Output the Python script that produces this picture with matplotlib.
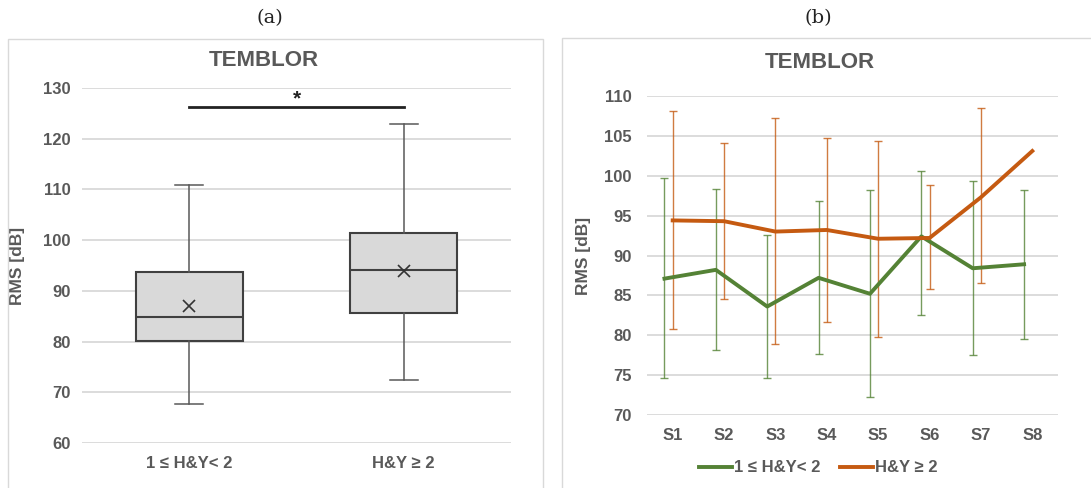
import numpy as np
import matplotlib
matplotlib.use("Agg")
import matplotlib.pyplot as plt
from matplotlib.patches import Rectangle

plt.rcParams['font.family'] = ['Liberation Sans', 'DejaVu Sans']

# ---- panel (a): box plot data ----
groups = ["1 \u2264 H&Y< 2", "H&Y \u2265 2"]
whisker_low = [67.7, 72.5]
q1 = [80.2, 85.6]
median = [84.8, 94.2]
q3 = [93.7, 101.4]
whisker_high = [110.8, 123.0]
mean_vals = [87.1, 94.0]
sig_level = 126.2

# ---- panel (b): per-session means and error bar ends ----
sessions = ["S1", "S2", "S3", "S4", "S5", "S6", "S7", "S8"]
mild_mean = [87.1, 88.2, 83.6, 87.2, 85.2, 92.4, 88.4, 88.9]
mild_top = [99.7, 98.3, 92.6, 96.8, 98.2, 100.6, 99.4, 98.2]
mild_bot = [74.6, 78.1, 74.7, 77.6, 72.2, 82.6, 77.5, 79.5]
sev_mean = [94.4, 94.3, 93.0, 93.2, 92.1, 92.2, 97.3, 103.1]
sev_top = [108.1, 104.1, 107.2, 104.7, 104.4, 98.8, 108.5]
sev_bot = [80.8, 84.5, 78.9, 81.7, 79.8, 85.8, 86.5]

GRAY = "#595959"
GRID = "#D9D9D9"
GREEN = "#548235"
ORANGE = "#C55A11"
W, H = 1091, 488

fig = plt.figure(figsize=(W / 100, H / 100), dpi=100)


def px_axes(x0, y0, x1, y1):
    return fig.add_axes([x0 / W, 1 - y1 / H, (x1 - x0) / W, (y1 - y0) / H])


# panel frames
fig.add_artist(Rectangle((8 / W, -0.05), 535 / W, 1.05 - 39 / H,
                         transform=fig.transFigure, fill=False, ec="#D9D9D9", lw=1))
fig.add_artist(Rectangle((562 / W, -0.05), 540 / W, 1.05 - 38 / H,
                         transform=fig.transFigure, fill=False, ec="#D9D9D9", lw=1))

fig.text(270 / W, 1 - 18 / H, "(a)", ha="center", va="center",
         family="DejaVu Serif", fontsize=14, color="#222222")
fig.text(818 / W, 1 - 18 / H, "(b)", ha="center", va="center",
         family="DejaVu Serif", fontsize=14, color="#222222")
fig.text(264 / W, 1 - 60 / H, "TEMBLOR", ha="center", va="center",
         fontsize=16, fontweight="bold", color=GRAY)
fig.text(820 / W, 1 - 63 / H, "TEMBLOR", ha="center", va="center",
         fontsize=16, fontweight="bold", color=GRAY)


def style(ax):
    for s in ax.spines.values():
        s.set_visible(False)
    ax.grid(True, axis="y", color=GRID, lw=1.3)
    ax.set_axisbelow(True)
    ax.tick_params(length=0, labelsize=12, labelcolor=GRAY)
    for lab in ax.get_xticklabels() + ax.get_yticklabels():
        lab.set_fontweight("bold")


# ---- (a) box plot ----
ax1 = px_axes(82, 88, 511, 443)
stats = []
for i in range(len(groups)):
    stats.append(dict(whislo=whisker_low[i], q1=q1[i], med=median[i],
                      q3=q3[i], whishi=whisker_high[i], mean=mean_vals[i],
                      fliers=[], label=groups[i]))
ax1.bxp(stats, positions=[1, 2], widths=0.5, capwidths=0.13, showmeans=True,
        patch_artist=True,
        boxprops=dict(facecolor="#D9D9D9", edgecolor="#404040", lw=1.5),
        medianprops=dict(color="#404040", lw=1.5),
        whiskerprops=dict(color="#595959", lw=1.1),
        capprops=dict(color="#595959", lw=1.1),
        meanprops=dict(marker="x", markeredgecolor="#333333",
                       markersize=8, markeredgewidth=1.2))
ax1.plot([1, 2], [sig_level, sig_level], color="#222222", lw=2)
ax1.text(1.5, 127.8, "*", ha="center", va="center", fontsize=15,
         fontweight="bold", color="#222222")
ax1.set_xlim(0.5, 2.5)
ax1.set_ylim(60, 130)
ax1.set_yticks(np.arange(60, 131, 10))
ax1.set_ylabel("RMS [dB]", fontsize=12.5, fontweight="bold", color=GRAY)
ax1.yaxis.set_label_coords(-0.133, 0.5)
style(ax1)
ax1.tick_params(axis="x", pad=9)
ax1.tick_params(axis="y", pad=8)

# ---- (b) lines with error bars ----
ax2 = px_axes(647, 96, 1058, 415)
x = np.arange(len(sessions))
xg = x - 0.16
mm = np.array(mild_mean)
sm = np.array(sev_mean)
ax2.errorbar(xg, mm, yerr=[mm - np.array(mild_bot), np.array(mild_top) - mm],
             fmt="none", ecolor=GREEN, elinewidth=1, capsize=3, capthick=1, alpha=0.8)
n = len(sev_top)
ax2.errorbar(x[:n], sm[:n], yerr=[sm[:n] - np.array(sev_bot), np.array(sev_top) - sm[:n]],
             fmt="none", ecolor=ORANGE, elinewidth=1, capsize=3, capthick=1, alpha=0.8)
ax2.plot(xg, mm, color=GREEN, lw=2.8, label=groups[0], solid_joinstyle="round")
ax2.plot(x, sm, color=ORANGE, lw=2.8, label=groups[1], solid_joinstyle="round")
ax2.set_xlim(-0.5, len(sessions) - 0.5)
ax2.set_ylim(70, 110)
ax2.set_yticks(np.arange(70, 111, 5))
ax2.set_xticks(x)
ax2.set_xticklabels(sessions)
ax2.set_ylabel("RMS [dB]", fontsize=12.5, fontweight="bold", color=GRAY)
ax2.yaxis.set_label_coords(-0.136, 0.5)
style(ax2)
ax2.tick_params(axis="x", pad=9)
ax2.tick_params(axis="y", pad=11)

leg = fig.legend(loc="center", bbox_to_anchor=(818 / W, 1 - 468 / H), ncol=2,
                 frameon=False, fontsize=12, handlelength=2.0, handletextpad=0.1,
                 columnspacing=1.2)
for t in leg.get_texts():
    t.set_color(GRAY)
    t.set_fontweight("bold")

fig.savefig("out.png", dpi=100)
